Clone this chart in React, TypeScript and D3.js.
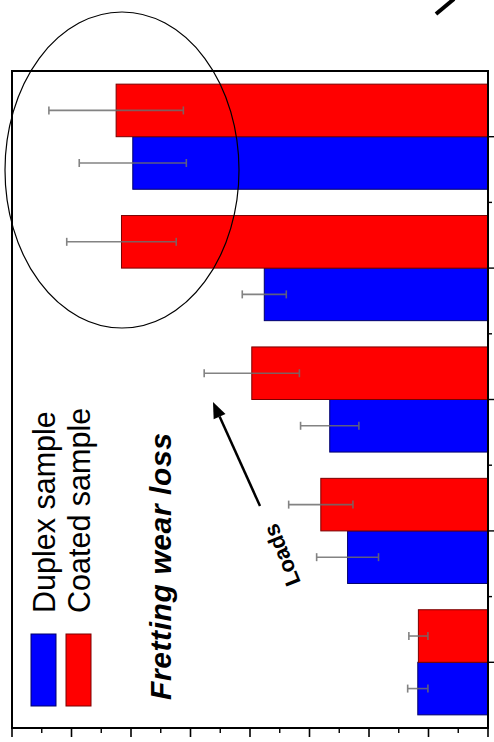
import React, { useEffect } from "react";
import * as d3 from "d3";

const categories = ["Load 1", "Load 2", "Load 3", "Load 4", "Load 5"];
const seriesNames = ["Duplex sample", "Coated sample"];
const duplexValues = [1.18, 2.36, 2.66, 3.76, 5.97];
const duplexErrors = [0.17, 0.52, 0.49, 0.37, 0.9];
const coatedValues = [1.17, 2.81, 3.97, 6.16, 6.25];
const coatedErrors = [0.16, 0.54, 0.8, 0.92, 1.13];
const valueTicks = [0, 1, 2, 3, 4, 5, 6, 7, 8];

const W = 494;
const H = 742;
const left = 12;
const right = 488;
const top = 71;
const bottom = 728;

const colors = ["#0000ff", "#ff0000"];
const strokes = ["#00006a", "#7a0000"];

export default function App() {
  useEffect(() => {
    document.body.style.margin = "0";
  }, []);

  const xVal = d3.scaleLinear().domain([0, 8]).range([right, left]);
  const yCat = d3.scaleBand<string>().domain(categories).range([bottom, top]).padding(0);
  const ySub = d3
    .scaleBand<string>()
    .domain(seriesNames)
    .range([yCat.bandwidth(), 0])
    .paddingInner(0)
    .paddingOuter(0.25);

  const data = categories.map((c, i) => ({
    cat: c,
    vals: [
      { s: seriesNames[0], v: duplexValues[i], e: duplexErrors[i], k: 0 },
      { s: seriesNames[1], v: coatedValues[i], e: coatedErrors[i], k: 1 },
    ],
  }));

  const minorTicks = d3.range(0, 8, 1).map((d) => d + 0.5);
  const catBoundaries = categories.slice(0, -1).map((c) => yCat(c)!);
  const font = "'Liberation Sans', Arial, sans-serif";

  // arrow
  const ax1 = 260, ay1 = 506, ax2 = 213, ay2 = 402;
  const ang = Math.atan2(ay2 - ay1, ax2 - ax1);
  const hl = 16, hw = 6.5;
  const bx = ax2 - hl * Math.cos(ang), by = ay2 - hl * Math.sin(ang);
  const head = [
    [ax2, ay2],
    [bx + hw * Math.sin(ang), by - hw * Math.cos(ang)],
    [bx - hw * Math.sin(ang), by + hw * Math.cos(ang)],
  ];

  return (
    <svg width={W} height={H} style={{ position: "absolute", left: 0, top: 0, background: "#fff" }}>
      <rect x={0} y={0} width={W} height={H} fill="#fff" />
      {/* bars */}
      {data.map((g) =>
        g.vals.map((d) => {
          const y = yCat(g.cat)! + ySub(d.s)!;
          const h = ySub.bandwidth();
          return (
            <rect
              key={g.cat + d.s}
              x={xVal(d.v)}
              y={y}
              width={xVal(0) - xVal(d.v)}
              height={h}
              fill={colors[d.k]}
              stroke={strokes[d.k]}
              strokeWidth={1}
            />
          );
        })
      )}
      {/* error bars */}
      {data.map((g) =>
        g.vals.map((d) => {
          const yc = yCat(g.cat)! + ySub(d.s)! + ySub.bandwidth() / 2;
          const xa = xVal(d.v + d.e);
          const xb = xVal(d.v - d.e);
          return (
            <g key={"e" + g.cat + d.s} stroke="#6e6e6e" strokeWidth={1.6} opacity={0.85}>
              <line x1={xa} x2={xb} y1={yc} y2={yc} />
              <line x1={xa} x2={xa} y1={yc - 4} y2={yc + 4} />
              <line x1={xb} x2={xb} y1={yc - 4} y2={yc + 4} />
            </g>
          );
        })
      )}
      {/* frame */}
      <rect x={left} y={top} width={right - left} height={bottom - top} fill="none" stroke="#000" strokeWidth={2} />
      {/* bottom value axis ticks */}
      {valueTicks.map((t) => (
        <line key={"vt" + t} x1={xVal(t)} x2={xVal(t)} y1={bottom} y2={bottom + 9} stroke="#000" strokeWidth={1.6} />
      ))}
      {minorTicks.map((t) => (
        <line key={"vm" + t} x1={xVal(t)} x2={xVal(t)} y1={bottom} y2={bottom + 5} stroke="#000" strokeWidth={1.4} />
      ))}
      {/* right category axis ticks */}
      {categories.map((c) => (
        <line
          key={"ct" + c}
          x1={right}
          x2={right + 6}
          y1={yCat(c)! + yCat.bandwidth() / 2}
          y2={yCat(c)! + yCat.bandwidth() / 2}
          stroke="#000"
          strokeWidth={1.4}
        />
      ))}
      {catBoundaries.map((b, i) => (
        <line key={"cb" + i} x1={right} x2={right + 4} y1={b} y2={b} stroke="#000" strokeWidth={1.4} />
      ))}
      {/* legend */}
      <rect x={31} y={634} width={25} height={72} fill={colors[0]} stroke={strokes[0]} strokeWidth={1} />
      <rect x={66} y={634} width={25} height={72} fill={colors[1]} stroke={strokes[1]} strokeWidth={1} />
      <text transform="translate(55,613) rotate(-90)" fontFamily={font} fontSize={30.5} fill="#000">
        {seriesNames[0]}
      </text>
      <text transform="translate(90,613) rotate(-90)" fontFamily={font} fontSize={30.5} fill="#000">
        {seriesNames[1]}
      </text>
      <text
        transform="translate(171,700) rotate(-90)"
        fontFamily={font}
        fontSize={30}
        fontWeight="bold"
        fontStyle="italic"
        letterSpacing={0.6}
        fill="#000"
      >
        Fretting wear loss
      </text>
      {/* arrow and Loads */}
      <line x1={ax1} y1={ay1} x2={bx} y2={by} stroke="#000" strokeWidth={2.5} />
      <polygon points={head.map((p) => p.join(",")).join(" ")} fill="#000" />
      <text
        transform="translate(282,555) rotate(-112)"
        fontFamily={font}
        fontSize={22}
        fontWeight="bold"
        textAnchor="middle"
        dominantBaseline="central"
        fill="#000"
      >
        Loads
      </text>
      {/* ellipse highlight */}
      <ellipse cx={122} cy={170} rx={117} ry={158} fill="none" stroke="#000" strokeWidth={1.2} />
      {/* partial slash at top right */}
      <line x1={436} y1={14} x2={454} y2={-1} stroke="#000" strokeWidth={4} />
    </svg>
  );
}
